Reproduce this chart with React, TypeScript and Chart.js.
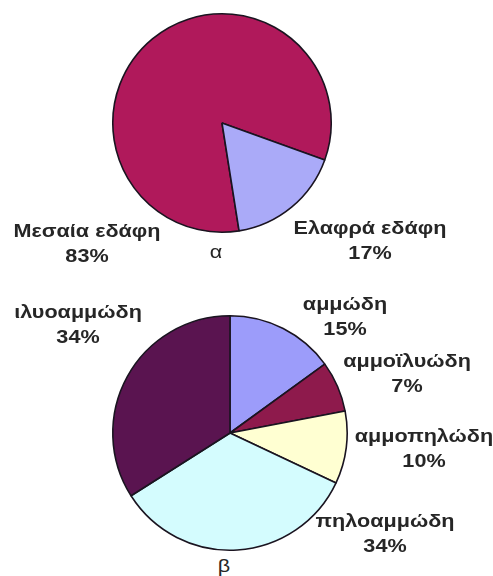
import React, { useEffect, useRef } from "react";
import { Chart, registerables } from "chart.js";

Chart.register(...registerables);

const topLabels = ["Μεσαία εδάφη", "Ελαφρά εδάφη"];
const topValues = [83, 17];
const topColors = ["#B0195B", "#AAAAF8"];

const bottomLabels = ["αμμώδη", "αμμοϊλυώδη", "αμμοπηλώδη", "πηλοαμμώδη", "ιλυοαμμώδη"];
const bottomValues = [15, 7, 10, 34, 34];
const bottomColors = ["#9C9CFA", "#8E1A4C", "#FFFFD2", "#D4FCFE", "#5A1450"];

const topCaption = "α";
const bottomCaption = "β";

function Pie({ labels, values, colors, size, rotation, left, top }: any) {
  const ref = useRef<HTMLCanvasElement>(null);
  useEffect(() => {
    const chart = new Chart(ref.current as HTMLCanvasElement, {
      type: "pie",
      data: {
        labels,
        datasets: [
          {
            data: values,
            backgroundColor: colors,
            borderColor: "#1a1420",
            borderWidth: 1.6,
          },
        ],
      },
      options: {
        responsive: false,
        animation: false,
        devicePixelRatio: 1,
        rotation,
        layout: { padding: 1 },
        plugins: { legend: { display: false }, tooltip: { enabled: false } },
      },
    });
    return () => chart.destroy();
  }, []);
  return (
    <canvas
      ref={ref}
      width={size}
      height={size}
      style={{ position: "absolute", left, top, width: size, height: size }}
    />
  );
}

const textStyle: React.CSSProperties = {
  position: "absolute",
  fontFamily: "'Liberation Sans', Arial, sans-serif",
  fontWeight: "bold",
  fontSize: 18,
  color: "#262626",
  textAlign: "center",
  lineHeight: "25px",
  whiteSpace: "nowrap",
  transform: "translate(-50%, 0) scaleX(1.2)",
};

function Label({ x, y, name, value }: any) {
  return (
    <div style={{ ...textStyle, left: x, top: y }}>
      <div>{name}</div>
      <div>{value}%</div>
    </div>
  );
}

export default function App() {
  return (
    <div style={{ position: "absolute", left: 0, top: 0, width: 493, height: 576, background: "#fff", overflow: "hidden" }}>
      <Pie labels={topLabels} values={topValues} colors={topColors} size={222} rotation={171} left={111} top={12} />
      <Pie labels={bottomLabels} values={bottomValues} colors={bottomColors} size={238} rotation={0} left={111} top={314} />
      <Label x={87} y={219} name={topLabels[0]} value={topValues[0]} />
      <Label x={370} y={216} name={topLabels[1]} value={topValues[1]} />
      <div style={{ ...textStyle, left: 216, top: 240, fontWeight: "normal" }}>{topCaption}</div>
      <Label x={78} y={300} name={bottomLabels[4]} value={bottomValues[4]} />
      <Label x={345} y={292} name={bottomLabels[0]} value={bottomValues[0]} />
      <Label x={407} y={349} name={bottomLabels[1]} value={bottomValues[1]} />
      <Label x={424} y={424} name={bottomLabels[2]} value={bottomValues[2]} />
      <Label x={385} y={509} name={bottomLabels[3]} value={bottomValues[3]} />
      <div style={{ ...textStyle, left: 224, top: 554, fontWeight: "normal" }}>{bottomCaption}</div>
    </div>
  );
}
